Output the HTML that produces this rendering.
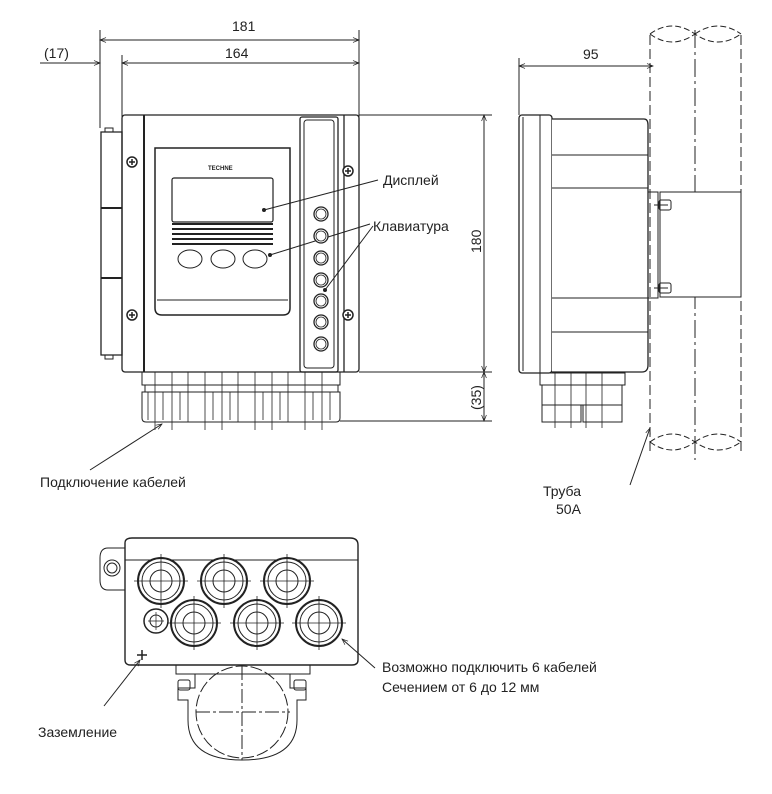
<!DOCTYPE html>
<html><head><meta charset="utf-8"><style>
html,body{margin:0;padding:0;background:#fff;}
svg{display:block;}
text{font-family:"Liberation Sans",sans-serif;fill:#222;}
</style></head><body>
<svg width="772" height="794" viewBox="0 0 772 794" xmlns="http://www.w3.org/2000/svg">
<defs>
<marker id="a" viewBox="0 0 10 10" refX="10" refY="5" markerWidth="8" markerHeight="6" orient="auto-start-reverse"><path d="M0,1 L10,5 L0,9" fill="none" stroke="#222" stroke-width="1.2"/></marker>
<g id="scr"><circle r="5" fill="#fff" stroke="#222" stroke-width="1.5"/><path d="M-3,0H3M0,-3V3" stroke="#222" stroke-width="1.5"/></g>
<g id="key"><circle r="7" fill="#fff" stroke="#222" stroke-width="1.3"/><circle r="5" fill="#fff" stroke="#222" stroke-width="0.8"/></g>
<g id="gl"><circle r="23" fill="#fff" stroke="#222" stroke-width="2"/><circle r="19" fill="none" stroke="#222" stroke-width="1"/><circle r="11" fill="none" stroke="#222" stroke-width="1"/><path d="M-27,0H27M0,-27V27" stroke="#222" stroke-width="0.8"/></g>
</defs>
<g stroke="#222" fill="none" stroke-width="1">
<path d="M100,30V128M122,55V118M359,30V118"/>
<line x1="100" y1="40" x2="359" y2="40" marker-start="url(#a)" marker-end="url(#a)"/>
<line x1="122" y1="63" x2="359" y2="63" marker-start="url(#a)" marker-end="url(#a)"/>
<line x1="40" y1="63" x2="100" y2="63" marker-end="url(#a)"/>
<path d="M359,115H492M359,372H492M340,421H492"/>
<line x1="484" y1="115" x2="484" y2="372" marker-start="url(#a)" marker-end="url(#a)"/>
<line x1="484" y1="372" x2="484" y2="421" marker-start="url(#a)" marker-end="url(#a)"/>
<rect x="122" y="115" width="237" height="257" rx="3" stroke-width="1.3"/>
<line x1="144" y1="115" x2="144" y2="372" stroke-width="2"/>
<path d="M101,132H122V355H101Z" stroke-width="1.3"/>
<path d="M101,208H122M101,278H122" stroke-width="2"/>
<rect x="105" y="128" width="8" height="4"/><rect x="105" y="355" width="8" height="4"/>
<path d="M155,148H290V308Q290,315 283,315H162Q155,315 155,308Z" stroke-width="1.5"/>
<path d="M157,300H288" />
<rect x="172" y="178" width="101" height="44" rx="2" stroke-width="1.2"/>
<path d="M172,224H273M172,229H273M172,234H273M172,239H273M172,244H273" stroke-width="2"/>
<ellipse cx="190" cy="259" rx="12" ry="9"/><ellipse cx="223" cy="259" rx="12" ry="9"/><ellipse cx="255" cy="259" rx="12" ry="9"/>
<rect x="300" y="117" width="38" height="255" rx="2" stroke-width="1.3"/>
<rect x="304" y="120" width="30" height="248" rx="3"/>
<path d="M344,115V372" stroke-width="1.3"/>
<path d="M142,372H340V385H142ZM145,385H338V392H145Z"/>
<path d="M142,392H340V418Q340,422 336,422H146Q142,422 142,418Z"/>
<path d="M155,372V430M172,372V430M188,372V422M205,372V430M222,372V430M238,372V422M255,372V430M272,372V430M288,372V422M305,372V430M322,372V430M148,392V420M163,392V420M180,392V420M213,392V420M230,392V420M263,392V420M280,392V420M313,392V420M330,392V420" stroke-width="0.8"/>
<path d="M264,210L378,180M270,255L370,224M325,290L373,226"/>
<line x1="90" y1="470" x2="162" y2="424" marker-end="url(#a)"/>
<path d="M519,58V115"/>
<line x1="519" y1="66" x2="653" y2="66" marker-start="url(#a)" marker-end="url(#a)"/>
<g stroke-dasharray="10,4"><path d="M650,35V455M741,35V455"/></g>
<path d="M695,30V460" stroke-dasharray="18,4,3,4"/>
<path d="M650,34Q672,18 695,34Q718,50 741,34M650,34Q672,50 695,34M695,34Q718,18 741,34" stroke-dasharray="6,3"/>
<path d="M650,442Q672,426 695,442Q718,458 741,442M650,442Q672,458 695,442M695,442Q718,426 741,442" stroke-dasharray="6,3"/>
<rect x="519" y="115" width="33" height="258" rx="3" fill="#fff" stroke-width="1.3"/>
<path d="M523,117V371M540,115V373"/>
<path d="M552,119H644Q648,119 648,125V365Q648,372 642,372H552" fill="#fff" stroke-width="1.3"/>
<path d="M552,155H648M552,188H648M552,298H648M552,332H648"/>
<rect x="648" y="192" width="10" height="106"/>
<rect x="660" y="192" width="81" height="105" fill="#fff"/>
<path d="M658,196V295"/>
<rect x="659" y="200" width="12" height="10" rx="2"/><rect x="659" y="283" width="12" height="10" rx="2"/>
<path d="M654,205H668M654,288H668"/>
<path d="M540,373H625V385H540ZM542,385H622V405H542Z"/>
<path d="M542,405H581V422H542ZM583,405H622V422H583Z"/>
<path d="M555,373V428M571,373V428M586,373V428M602,373V428" stroke-width="0.8"/>
<line x1="630" y1="485" x2="650" y2="428" marker-end="url(#a)"/>
<path d="M125,543Q125,538 132,538H350Q358,538 358,545V660Q358,665 352,665H131Q125,665 125,660Z" stroke-width="1.4"/>
<path d="M125,560H358"/>
<path d="M125,548H108Q100,548 100,558V580Q100,590 108,590H125"/>
<circle cx="112" cy="568" r="8"/><circle cx="112" cy="568" r="5"/>
<circle cx="156" cy="621" r="12" stroke-width="1.5"/><circle cx="156" cy="621" r="6"/>
<path d="M148,621H164M156,612V630" stroke-width="0.7"/>
<path d="M176,665H310V674H176Z"/>
<path d="M195,674V688H178V700H188V720Q188,760 242,760Q297,760 297,720V700H306V688H290V674"/>
<circle cx="242" cy="712" r="46" stroke-dasharray="12,3"/>
<path d="M196,712H290M242,666V760" stroke-dasharray="14,3,3,3"/>
<rect x="178" y="680" width="12" height="10" rx="2"/><rect x="294" y="680" width="12" height="10" rx="2"/>
<line x1="104" y1="706" x2="140" y2="660" marker-end="url(#a)"/>
<line x1="375" y1="668" x2="342" y2="639" marker-end="url(#a)"/>
</g>
<use href="#gl" x="161" y="581"/><use href="#gl" x="224" y="581"/><use href="#gl" x="287" y="581"/>
<use href="#gl" x="194" y="623"/><use href="#gl" x="257" y="623"/><use href="#gl" x="319" y="623"/>
<path d="M142,650V660M137,655H147" stroke="#222" stroke-width="1.5"/>
<use href="#scr" x="132" y="162"/><use href="#scr" x="132" y="315"/><use href="#scr" x="348" y="171"/><use href="#scr" x="348" y="315"/>
<use href="#key" x="321" y="214"/><use href="#key" x="321" y="236"/><use href="#key" x="321" y="258"/><use href="#key" x="321" y="280"/><use href="#key" x="321" y="301"/><use href="#key" x="321" y="322"/><use href="#key" x="321" y="344"/>
<circle cx="264" cy="210" r="2" fill="#222"/><circle cx="270" cy="255" r="2" fill="#222"/><circle cx="325" cy="290" r="2" fill="#222"/>
<text x="208" y="170" font-size="6" font-weight="bold">TECHNE</text>
<g font-size="14">
<text x="232" y="31">181</text>
<text x="225" y="58">164</text>
<text x="44" y="58">(17)</text>
<text x="583" y="59">95</text>
<text x="383" y="185">Дисплей</text>
<text x="373" y="231">Клавиатура</text>
<text x="0" y="0" transform="translate(481,253) rotate(-90)">180</text>
<text x="0" y="0" transform="translate(481,410) rotate(-90)">(35)</text>
<text x="40" y="487">Подключение кабелей</text>
<text x="543" y="496">Труба</text>
<text x="556" y="514">50A</text>
<text x="382" y="672">Возможно подключить 6 кабелей</text>
<text x="382" y="692">Сечением от 6 до 12 мм</text>
<text x="38" y="737">Заземление</text>
</g>
</svg>
</body></html>
